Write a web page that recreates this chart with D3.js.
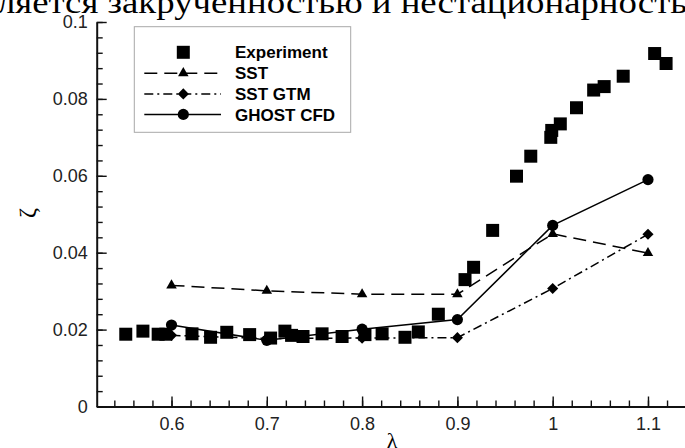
<!DOCTYPE html>
<html>
<head>
<meta charset="utf-8">
<script src="https://cdn.jsdelivr.net/npm/d3@7"></script>
<style>
  body { margin: 0; background: #fff; }
  svg { display: block; }
</style>
</head>
<body>
<div id="chart-area"></div>
<script>
// Data
const expX = [0.552, 0.570, 0.586, 0.594, 0.6215, 0.641, 0.658, 0.682, 0.704, 0.719, 0.726, 0.738,
  0.758, 0.779, 0.803, 0.821, 0.845, 0.859, 0.880, 0.908, 0.917, 0.937, 0.962, 0.977,
  0.998, 0.999, 1.008, 1.025, 1.043, 1.054, 1.074, 1.107, 1.119]
const expY = [0.0188, 0.0196, 0.0188, 0.0188, 0.0189, 0.0180, 0.0193, 0.0187, 0.0178, 0.0196, 0.0185, 0.0182,
  0.0189, 0.0182, 0.0187, 0.0189, 0.0180, 0.0194, 0.0240, 0.0330, 0.0362, 0.0458, 0.0599, 0.0651,
  0.0700, 0.0718, 0.0735, 0.0777, 0.0823, 0.0832, 0.0859, 0.0918, 0.0892]
const modelX = [0.6, 0.7, 0.8, 0.9, 1.0, 1.1]
const sstY = [0.0315, 0.0301, 0.0292, 0.0292, 0.0449, 0.0399]
const gtmY = [0.0185, 0.0177, 0.0178, 0.0179, 0.0307, 0.0448]
const cfdY = [0.0212, 0.0172, 0.0201, 0.0226, 0.0471, 0.0590]
const xTicks = [0.6, 0.7, 0.8, 0.9, 1.0, 1.1]
const yTicks = [0, 0.02, 0.04, 0.06, 0.08, 0.1]
const legendNames = ["Experiment", "SST", "SST GTM", "GHOST CFD"]

const W = 685, H = 448

const svg = d3.select("#chart-area").append("svg")
  .attr("width", W)
  .attr("height", H)
  .attr("viewBox", [0, 0, W, H])

// Scales
const x = d3.scaleLinear().domain([0.5215, 1.14]).range([96.7, 686.1])
const y = d3.scaleLinear().domain([0, 0.1]).range([406.5, 22])

// text cut at top of the page
svg.append("text")
  .attr("x", -3).attr("y", 13)
  .attr("textLength", 690).attr("lengthAdjust", "spacingAndGlyphs")
  .style("font-family", "Liberation Serif, serif")
  .style("font-size", "32px")
  .text("ляется закрученностью и нестационарность")

// series styles
const series = [
  { name: legendNames[1], ys: sstY, dash: "13,7", sym: "tri" },
  { name: legendNames[2], ys: gtmY, dash: "9,4,2,4", sym: "dia" },
  { name: legendNames[3], ys: cfdY, dash: null, sym: "circ" }
]

function symPath(type) {
  if (type === "tri") return d3.symbol(d3.symbolTriangle, 48)()
  if (type === "dia") return d3.symbol(d3.symbolSquare, 62)()
  if (type === "circ") return d3.symbol(d3.symbolCircle, Math.PI * 5.6 * 5.6)()
  return d3.symbol(d3.symbolSquare, 13 * 13)()
}
function symRot(type) { return type === "dia" ? " rotate(45)" : "" }

// Axes
const fmt = d => d3.format("~g")(d)

const gx = svg.append("g").attr("transform", `translate(0,${y(0)})`)
gx.call(d3.axisBottom(x).tickValues(d3.range(0.54, 1.13, 0.02)).tickSize(-6).tickFormat("").tickSizeOuter(0))
gx.select(".domain").remove()
const gx2 = svg.append("g").attr("transform", `translate(0,${y(0)})`)
gx2.call(d3.axisBottom(x).tickValues(xTicks).tickSize(-10).tickPadding(11).tickSizeOuter(0).tickFormat(fmt))

const gy = svg.append("g").attr("transform", `translate(${x.range()[0]},0)`)
gy.call(d3.axisLeft(y).tickValues(d3.range(0, 0.1001, 0.004)).tickSize(-6).tickFormat("").tickSizeOuter(0))
gy.select(".domain").remove()
const gy2 = svg.append("g").attr("transform", `translate(${x.range()[0]},0)`)
gy2.call(d3.axisLeft(y).tickValues(yTicks).tickSize(-10).tickPadding(9).tickSizeOuter(0).tickFormat(fmt))

svg.selectAll(".tick line").attr("stroke", "#111").attr("stroke-width", 1.4)
gx2.select(".domain").attr("stroke", "#111").attr("stroke-width", 2)
gy2.select(".domain").attr("stroke", "#111").attr("stroke-width", 2)
svg.selectAll(".tick text")
  .style("font-family", "Liberation Sans, Arial, sans-serif")
  .style("font-size", "18px")
  .attr("fill", "#222")

// axis titles
svg.append("text")
  .attr("x", 392).attr("y", 448)
  .attr("text-anchor", "middle")
  .style("font-family", "Liberation Serif, serif")
  .style("font-size", "22px")
  .text("λ")
svg.append("text")
  .attr("transform", "translate(35,213) rotate(-90)")
  .attr("text-anchor", "middle")
  .style("font-family", "Liberation Serif, serif")
  .style("font-size", "24px")
  .text("ζ")

// Lines
const line = d3.line().x(d => x(d[0])).y(d => y(d[1]))
series.forEach(s => {
  svg.append("path")
    .datum(modelX.map((v, i) => [v, s.ys[i]]))
    .attr("d", line)
    .attr("fill", "none")
    .attr("stroke", "#000")
    .attr("stroke-width", 1.5)
    .attr("stroke-dasharray", s.dash)
})

// Experiment squares
svg.selectAll(".exp")
  .data(expX.map((v, i) => [v, expY[i]]))
  .join("path")
  .attr("class", "exp")
  .attr("d", symPath("sq"))
  .attr("transform", d => `translate(${x(d[0])},${y(d[1])})`)
  .attr("fill", "#000")

// model markers
series.forEach(s => {
  svg.selectAll(".m-" + s.sym)
    .data(modelX.map((v, i) => [v, s.ys[i]]))
    .join("path")
    .attr("class", "m-" + s.sym)
    .attr("d", symPath(s.sym))
    .attr("transform", d => `translate(${x(d[0])},${y(d[1])})` + symRot(s.sym))
    .attr("fill", "#000")
})

// Legend
const lg = svg.append("g")
lg.append("rect")
  .attr("x", 134.3).attr("y", 26.7)
  .attr("width", 216.4).attr("height", 105.6)
  .attr("fill", "#fff")
  .attr("stroke", "#a8a8a8")
  .attr("stroke-width", 1)

const rowY = [52.3, 73.2, 93.9, 114.4]
lg.append("path")
  .attr("d", symPath("sq"))
  .attr("transform", `translate(183.3,${rowY[0]})`)
  .attr("fill", "#000")
series.forEach((s, i) => {
  lg.append("line")
    .attr("x1", 144.3).attr("x2", 221)
    .attr("y1", rowY[i + 1]).attr("y2", rowY[i + 1])
    .attr("stroke", "#000")
    .attr("stroke-width", 1.5)
    .attr("stroke-dasharray", s.dash)
  lg.append("path")
    .attr("d", symPath(s.sym))
    .attr("transform", `translate(183.3,${rowY[i + 1]})` + symRot(s.sym))
    .attr("fill", "#000")
})
lg.selectAll(".lt")
  .data(legendNames)
  .join("text")
  .attr("class", "lt")
  .attr("x", 235)
  .attr("y", (d, i) => rowY[i])
  .attr("dy", "0.36em")
  .style("font-family", "Liberation Sans, Arial, sans-serif")
  .style("font-weight", "bold")
  .style("font-size", "17px")
  .text(d => d)
</script>
</body>
</html>
